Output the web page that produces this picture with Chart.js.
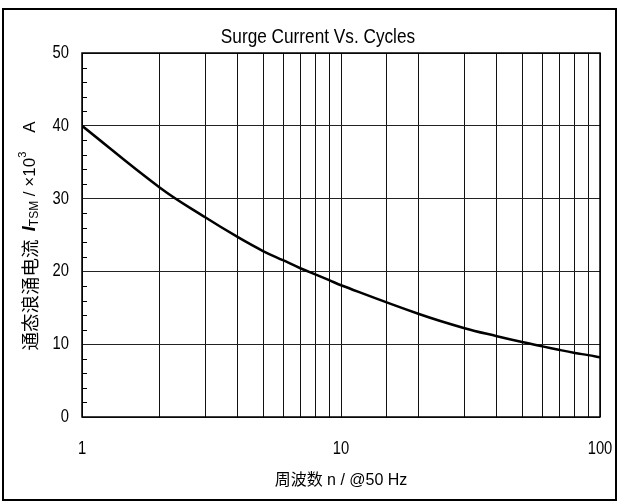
<!DOCTYPE html>
<html>
<head>
<meta charset="utf-8">
<script src="https://cdn.jsdelivr.net/npm/chart.js@4.4.1/dist/chart.umd.min.js"></script>
<style>
  html, body { margin: 0; padding: 0; background: #fff; }
  #wrap { width: 619px; height: 502px; position: relative; }
</style>
</head>
<body>
<div id="wrap"><canvas id="surge"></canvas></div>
<script>
// Surge current vs. number of cycles
const cycles = [1, 2, 3, 4, 5, 6, 7, 8, 9, 10, 20, 30, 40, 50, 60, 70, 80, 90, 100];
const currentKA = [40, 31.5, 27.4, 24.7, 22.8, 21.5, 20.4, 19.55, 18.8, 18.1, 14.15, 12.2, 11.1, 10.3, 9.7, 9.2, 8.8, 8.5, 8.2];
const xLabels = [1, 10, 100];
const yMajor = [0, 10, 20, 30, 40, 50];
const chartTitle = "Surge Current Vs. Cycles";

const FONT = "'Liberation Sans', Arial, sans-serif";
const CJK = "'Noto Sans CJK SC', sans-serif";
const SQUEEZE = 0.82; // no narrow face installed, so compress Arial-like text

function narrowText(ctx, text, x, y, size, align) {
  ctx.save();
  ctx.font = size + "px " + FONT;
  ctx.textAlign = align;
  ctx.textBaseline = "middle";
  ctx.fillStyle = "#000";
  ctx.translate(x, y);
  ctx.scale(SQUEEZE, 1);
  ctx.fillText(text, 0, 0);
  ctx.restore();
}

// Border round the whole picture, plot frame, minor ticks, labels
const decor = {
  id: "decor",
  beforeDraw(chart) {
    const ctx = chart.ctx;
    ctx.save();
    ctx.strokeStyle = "#000";
    ctx.lineWidth = 2;
    ctx.strokeRect(3, 9, chart.width - 6, chart.height - 11);
    ctx.restore();
  },
  afterDraw(chart) {
    const ctx = chart.ctx;
    const area = chart.chartArea;
    const xs = chart.scales.x;
    const ys = chart.scales.y;
    ctx.save();
    ctx.strokeStyle = "#000";
    ctx.lineWidth = 1.5;
    ctx.strokeRect(area.left, area.top, area.right - area.left, area.bottom - area.top);

    // minor ticks every 2 units, pointing into the plot
    ctx.lineWidth = 1;
    for (let v = 2; v < 50; v += 2) {
      if (v % 10 === 0) continue;
      const py = Math.round(ys.getPixelForValue(v)) + 0.5;
      ctx.beginPath();
      ctx.moveTo(area.left, py);
      ctx.lineTo(area.left + 5, py);
      ctx.stroke();
    }
    ctx.restore();

    // tick labels and title in a condensed face
    yMajor.forEach((v) => narrowText(ctx, String(v), area.left - 13, ys.getPixelForValue(v), 18, "right"));
    xLabels.forEach((v) => narrowText(ctx, String(v), xs.getPixelForValue(v), area.bottom + 32, 18, "center"));
    narrowText(ctx, chartTitle, 318, 37, 21, "center");

    // y axis title with italic I, subscript and superscript
    const parts = [
      { t: "通态浪涌电流  ", f: "18.5px " + CJK, dy: 0 },
      { t: "I", f: "italic bold 18px " + FONT, dy: 0 },
      { t: "TSM", f: "12px " + FONT, dy: 5 },
      { t: " / ×10", f: "17px " + FONT, dy: 0 },
      { t: "3", f: "11px " + FONT, dy: -7 },
      { t: "    A", f: "17px " + FONT, dy: 0 },
    ];
    let total = 0;
    parts.forEach((p) => {
      ctx.font = p.f;
      p.w = ctx.measureText(p.t).width;
      total += p.w;
    });
    ctx.save();
    ctx.translate(30, 236);
    ctx.rotate(-Math.PI / 2);
    ctx.fillStyle = "#000";
    ctx.textBaseline = "middle";
    let x = -total / 2;
    parts.forEach((p) => {
      ctx.font = p.f;
      ctx.fillText(p.t, x, p.dy);
      x += p.w;
    });
    ctx.restore();
  },
};

new Chart(document.getElementById("surge"), {
  type: "line",
  data: {
    labels: cycles,
    datasets: [
      {
        data: cycles.map((c, i) => ({ x: c, y: currentKA[i] })),
        borderColor: "#000",
        borderWidth: 2.5,
        pointRadius: 0,
        tension: 0.4,
        fill: false,
      },
    ],
  },
  options: {
    responsive: true,
    maintainAspectRatio: false,
    animation: false,
    layout: { padding: { left: 0, right: 19, top: 53, bottom: 0 } },
    plugins: {
      legend: { display: false },
      tooltip: { enabled: false },
      title: { display: false },
    },
    scales: {
      x: {
        type: "logarithmic",
        min: 1,
        max: 100,
        afterFit(scale) {
          scale.height = 85;
          scale.paddingLeft = 0;
          scale.paddingRight = 0;
        },
        grid: { color: "#111", lineWidth: 1, drawTicks: false },
        border: { display: false },
        ticks: { display: false, autoSkip: false },
        title: {
          display: true,
          text: "周波数 n / @50 Hz",
          color: "#000",
          font: { family: "'Liberation Sans', 'Noto Sans CJK SC', sans-serif", size: 16 },
          padding: { top: 0, bottom: 12 },
        },
      },
      y: {
        min: 0,
        max: 50,
        afterFit(scale) {
          scale.width = 82;
        },
        grid: {
          drawTicks: false,
          lineWidth: 1,
          color: (c) => (c.tick && c.tick.value % 10 === 0 ? "#222" : "rgba(0,0,0,0)"),
        },
        border: { display: false },
        ticks: { display: false, stepSize: 2, autoSkip: false },
      },
    },
  },
  plugins: [decor],
});
</script>
</body>
</html>
